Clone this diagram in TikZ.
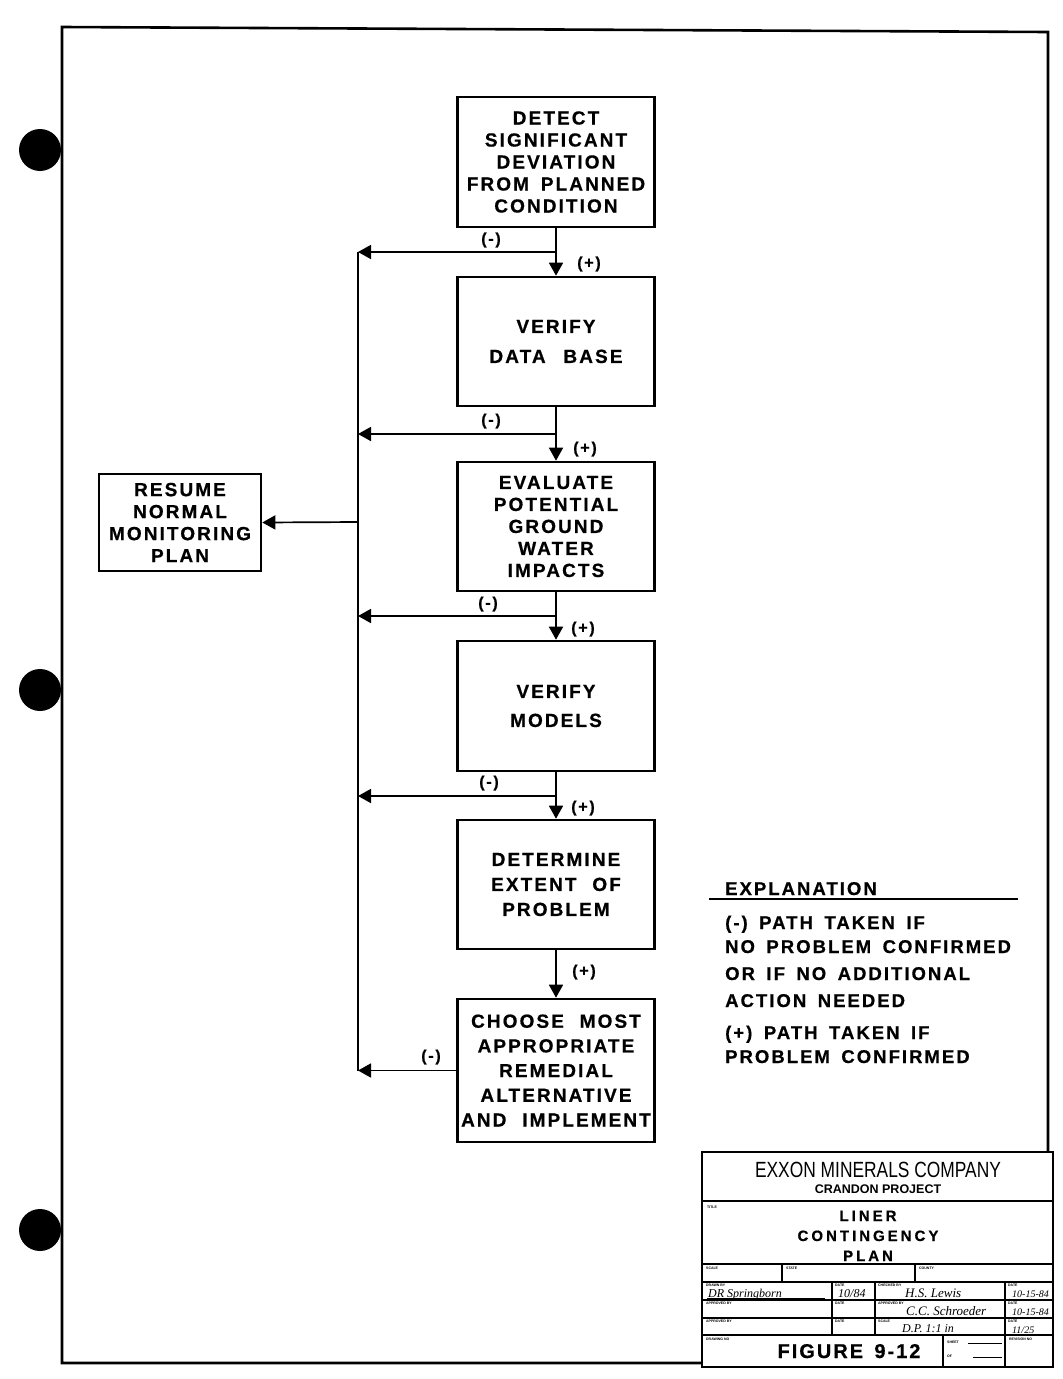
\documentclass[tikz,border=0pt]{standalone}
\usepackage{fontspec}
\setmainfont{Liberation Sans}
\newfontfamily\lab[LetterSpace=11,WordSpace=1.6,FakeBold=0.6]{Liberation Sans Bold}
\newfontfamily\tlab[LetterSpace=20,FakeBold=0.6]{Liberation Sans Bold}
\newfontfamily\figlab[LetterSpace=10,WordSpace=1.5,FakeBold=0.6]{Liberation Sans Bold}
\newfontfamily\cofont[FakeStretch=0.79]{Liberation Sans}
\newfontfamily\hand{Liberation Serif Italic}
\usetikzlibrary{arrows.meta}
\begin{document}
\begin{tikzpicture}[x=1pt,y=-1pt,
  stepbox/.style={draw,line width=2.6pt,minimum width=197pt,align=center,inner sep=0pt,
     font=\lab\fontsize{19}{22}\selectfont},
  arr/.style={-{Triangle[length=13pt,width=14pt]},line width=1.7pt},
  ln/.style={line width=1.7pt},
  sgn/.style={font=\lab\fontsize{16}{16}\selectfont,inner sep=0pt},
  expl/.style={anchor=base west,inner sep=0pt,font=\lab\fontsize{18.5}{22}\selectfont},
  tiny/.style={anchor=north west,inner sep=0pt,font=\bfseries\fontsize{3.5}{4}\selectfont},
  hw/.style={anchor=base west,inner sep=0pt,font=\hand\fontsize{12}{12}\selectfont},
  frame/.style={line width=2.6pt},
  tb/.style={line width=1.6pt}]
\useasboundingbox (0,0) rectangle (1063,1379);
% binder holes
\fill (40,150) circle (21);
\fill (40,690) circle (21);
\fill (40,1230) circle (21);
% frame
\draw[frame,line join=miter] (702,1363) -- (62,1363) -- (62,27) -- (1048,32) -- (1048,1152);
% boxes
\node[stepbox,minimum height=130pt] (b1) at (556,162) {DETECT\\SIGNIFICANT\\DEVIATION\\FROM PLANNED\\CONDITION};
\node[stepbox,minimum height=129pt] (b2) at (556,341.5) {VERIFY\\[8pt]DATA\hspace{6pt} BASE};
\node[stepbox,minimum height=129pt] (b3) at (556,526.5) {EVALUATE\\POTENTIAL\\GROUND\\WATER\\IMPACTS};
\node[stepbox,minimum height=130pt] (b4) at (556,706) {VERIFY\\[7pt]MODELS};
\node[stepbox,minimum height=129pt] (b5) at (556,884.5) {DETERMINE\\[3pt]EXTENT\hspace{4pt} OF\\[3pt]PROBLEM};
\node[stepbox,minimum height=143pt,font=\lab\fontsize{19}{24.7}\selectfont] (b6) at (556,1070.5) {CHOOSE\hspace{4pt} MOST\\APPROPRIATE\\REMEDIAL\\ALTERNATIVE\\AND\hspace{4pt} IMPLEMENT};
\node[stepbox,minimum width=162pt,minimum height=97pt] (res) at (180,522.5) {RESUME\\NORMAL\\MONITORING\\PLAN};
% junctions
\coordinate (j1) at (556,252); \coordinate (k1) at (358,252);
\coordinate (j2) at (556,434); \coordinate (k2) at (358,434);
\coordinate (j3) at (556,616); \coordinate (k3) at (358,616);
\coordinate (j4) at (556,796); \coordinate (k4) at (358,796);
\coordinate (k6) at (358,1070.5);
\coordinate (kr) at (358,522);
% connectors
\draw[arr] (b1.south) -- (b2.north);
\draw[arr] (b2.south) -- (b3.north);
\draw[arr] (b3.south) -- (b4.north);
\draw[arr] (b4.south) -- (b5.north);
\draw[arr] (b5.south) -- (b6.north);
\draw[arr] (j1) -- (k1);
\draw[arr] (j2) -- (k2);
\draw[arr] (j3) -- (k3);
\draw[arr] (j4) -- (k4);
\draw[arr] (b6.west) -- (k6);
\draw[ln] (k1) -- (k6);
\draw[arr] (kr) -- (res.east);
% path labels
\node[sgn] (m1) at (491,240) {(-)};
\node[sgn] (p1) at (589,264) {(+)};
\node[sgn] (m2) at (491,421) {(-)};
\node[sgn] (p2) at (585,449) {(+)};
\node[sgn] (m3) at (488,604) {(-)};
\node[sgn] (p3) at (583,629) {(+)};
\node[sgn] (m4) at (489,783) {(-)};
\node[sgn] (p4) at (583,808) {(+)};
\node[sgn] (p5) at (584,972) {(+)};
\node[sgn] (m6) at (431,1057) {(-)};
% explanation
\node[expl] (ex0) at (725,895) {EXPLANATION};
\coordinate (ul1) at (709,899); \coordinate (ul2) at (1018,899);
\draw[line width=1.8pt] (ul1) -- (ul2);
\node[expl] (ex1) at (725,929) {(-) PATH TAKEN IF};
\node[expl] (ex2) at (725,953) {NO PROBLEM CONFIRMED};
\node[expl] (ex3) at (725,980) {OR IF NO ADDITIONAL};
\node[expl] (ex4) at (725,1007) {ACTION NEEDED};
\node[expl] (ex5) at (725,1039) {(+) PATH TAKEN IF};
\node[expl] (ex6) at (725,1063) {PROBLEM CONFIRMED};
% title block
\draw[line width=2.6pt] (702,1152) rectangle (1053,1367);
\draw[line width=2.4pt] (702,1201) -- (1053,1201);
\draw[tb] (702,1264) -- (1053,1264);
\draw[tb] (702,1282) -- (1053,1282);
\draw[tb] (702,1300) -- (1053,1300);
\draw[tb] (702,1318) -- (1053,1318);
\draw[tb] (702,1335) -- (1053,1335);
\draw[tb] (782,1264) -- (782,1282);
\draw[tb] (915,1264) -- (915,1282);
\draw[tb] (832,1282) -- (832,1335);
\draw[tb] (875,1282) -- (875,1335);
\draw[tb] (1005,1282) -- (1005,1367);
\draw[tb] (943,1335) -- (943,1367);
\draw[line width=1pt] (968,1343) -- (1002,1343);
\draw[line width=1pt] (973,1357) -- (1002,1357);
\node[anchor=base,inner sep=0pt,font=\cofont\fontsize{22}{22}\selectfont] (co) at (878,1177) {EXXON MINERALS COMPANY};
\node[anchor=base,inner sep=0pt,font=\bfseries\fontsize{12.5}{12.5}\selectfont] (pr) at (878,1193) {CRANDON PROJECT};
\node[anchor=base,inner sep=0pt,font=\tlab\fontsize{15}{15}\selectfont] (t1) at (868,1221) {LINER};
\node[anchor=base,inner sep=0pt,font=\tlab\fontsize{15}{15}\selectfont] (t2) at (868,1241) {CONTINGENCY};
\node[anchor=base,inner sep=0pt,font=\tlab\fontsize{15}{15}\selectfont] (t3) at (868,1261) {PLAN};
\node[anchor=base,inner sep=0pt,font=\figlab\fontsize{20}{20}\selectfont] (fig) at (849,1358) {FIGURE 9-12};
% tiny field labels
\node[tiny] (l1) at (707,1206) {TITLE};
\node[tiny] (l2) at (706,1267) {SCALE};
\node[tiny] (l3) at (786,1267) {STATE};
\node[tiny] (l4) at (919,1267) {COUNTY};
\node[tiny] (l5) at (706,1284) {DRAWN BY};
\node[tiny] (l6) at (835,1284) {DATE};
\node[tiny] (l7) at (878,1284) {CHECKED BY};
\node[tiny] (l8) at (1008,1284) {DATE};
\node[tiny] (l9) at (706,1302) {APPROVED BY};
\node[tiny] (l10) at (835,1302) {DATE};
\node[tiny] (l11) at (878,1302) {APPROVED BY};
\node[tiny] (l12) at (1008,1302) {DATE};
\node[tiny] (l13) at (706,1320) {APPROVED BY};
\node[tiny] (l14) at (835,1320) {DATE};
\node[tiny] (l15) at (878,1320) {SCALE};
\node[tiny] (l16) at (1008,1320) {DATE};
\node[tiny] (l17) at (706,1338) {DRAWING NO};
\node[tiny] (l18) at (947,1341) {SHEET};
\node[tiny] (l19) at (947,1355) {OF};
\node[tiny] (l20) at (1009,1338) {REVISION NO};
% handwriting
\node[hw] (h1) at (708,1297) {DR Springborn};
\draw[line width=0.8pt] (707,1298.5) -- (825,1298.5);
\node[hw] (h2) at (838,1297) {10/84};
\node[hw,font=\hand\fontsize{13}{13}\selectfont] (h3) at (905,1297) {H.S. Lewis};
\node[hw,font=\hand\fontsize{10}{10}\selectfont] (h4) at (1012,1297.5) {10-15-84};
\node[hw,font=\hand\fontsize{13}{13}\selectfont] (h5) at (906,1315) {C.C. Schroeder};
\node[hw,font=\hand\fontsize{10}{10}\selectfont] (h6) at (1012,1315.5) {10-15-84};
\node[hw,font=\hand\fontsize{12}{12}\selectfont] (h7) at (902,1332.5) {D.P. 1:1 in};
\node[hw,font=\hand\fontsize{10}{10}\selectfont] (h8) at (1012,1333) {11/25};
\end{tikzpicture}
\end{document}
